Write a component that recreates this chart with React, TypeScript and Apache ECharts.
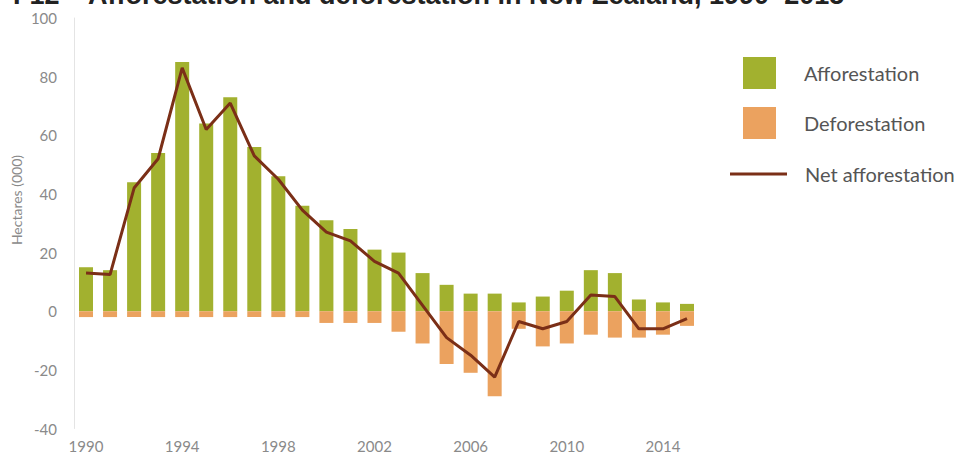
import React, { useEffect, useRef } from "react";
import * as echarts from "echarts";

const years = [
  "1990", "1991", "1992", "1993", "1994", "1995", "1996", "1997", "1998", "1999",
  "2000", "2001", "2002", "2003", "2004", "2005", "2006", "2007", "2008", "2009",
  "2010", "2011", "2012", "2013", "2014", "2015",
];
const afforestation = [15, 14, 44, 54, 85, 64, 73, 56, 46, 36, 31, 28, 21, 20, 13, 9, 6, 6, 3, 5, 7, 14, 13, 4, 3, 2.5];
const deforestation = [-2, -2, -2, -2, -2, -2, -2, -2, -2, -2, -4, -4, -4, -7, -11, -18, -21, -29, -6, -12, -11, -8, -9, -9, -8, -5];
const netAfforestation = [13, 12.5, 42, 52, 83, 62, 71, 53, 45, 34.5, 27, 24, 17, 13, 2, -9, -15, -22.5, -3.5, -6, -3.5, 5.5, 5, -6, -6, -2.5];
const titleCode = "F12";
const titleText = "Afforestation and deforestation in New Zealand, 1990–2015";
const yAxisName = "Hectares (000)";

const GREEN = "#a2b12f";
const ORANGE = "#eba25f";
const BROWN = "#7b2f17";
const FONT = "Lato, 'Open Sans', sans-serif";

export default function App() {
  const ref = useRef<HTMLDivElement>(null);
  useEffect(() => {
    if (!ref.current) return;
    const chart = echarts.init(ref.current, undefined, { renderer: "svg" });
    chart.setOption({
      animation: false,
      backgroundColor: "#ffffff",
      textStyle: { fontFamily: FONT },
      grid: { left: 74, right: 272, top: 18, bottom: 34.5, containLabel: false },
      xAxis: {
        type: "category",
        data: years,
        boundaryGap: true,
        axisLine: { show: false },
        axisTick: { show: false },
        axisLabel: { interval: 3, color: "#8a8a8a", fontSize: 15, margin: 10, fontFamily: FONT },
        splitLine: { show: false },
      },
      yAxis: {
        type: "value",
        min: -40,
        max: 100,
        interval: 20,
        axisLine: { show: true, lineStyle: { color: "#e4e4e4", width: 1 } },
        axisTick: { show: false },
        splitLine: { show: false },
        axisLabel: { color: "#8a8a8a", fontSize: 15, margin: 17, fontFamily: FONT },
      },
      legend: [
        {
          data: ["Afforestation", "Deforestation"],
          orient: "vertical",
          left: 743,
          top: 57,
          padding: 0,
          itemWidth: 33,
          itemHeight: 32,
          itemGap: 18,
          icon: "rect",
          textStyle: { fontSize: 20, color: "#555555", fontFamily: FONT, padding: [0, 0, 0, 23] },
          selectedMode: false,
        },
        {
          data: ["Net afforestation"],
          orient: "vertical",
          left: 730,
          top: 164,
          padding: 0,
          itemWidth: 57,
          itemHeight: 3,
          icon: "rect",
          textStyle: { fontSize: 20, color: "#555555", fontFamily: FONT, padding: [0, 0, 0, 13] },
          selectedMode: false,
        },
      ],
      graphic: [
        {
          type: "text",
          left: 13,
          top: -19,
          style: { text: titleCode, font: "bold 27px 'Liberation Sans', Arial, sans-serif", fill: "#222222" },
        },
        {
          type: "text",
          left: 88,
          top: -19,
          style: { text: titleText, font: "bold 27px 'Liberation Sans', Arial, sans-serif", fill: "#222222" },
        },
        {
          type: "text",
          x: 16,
          y: 200,
          rotation: Math.PI / 2,
          style: {
            text: yAxisName,
            font: `14px ${FONT}`,
            fill: "#8a8a8a",
            align: "center",
            verticalAlign: "middle",
          },
        },
      ],
      series: [
        {
          name: "Afforestation",
          type: "bar",
          stack: "total",
          data: afforestation,
          barWidth: 14,
          itemStyle: { color: GREEN },
        },
        {
          name: "Deforestation",
          type: "bar",
          stack: "total",
          data: deforestation,
          barWidth: 14,
          itemStyle: { color: ORANGE },
        },
        {
          name: "Net afforestation",
          type: "line",
          data: netAfforestation,
          symbol: "none",
          z: 5,
          lineStyle: { color: BROWN, width: 3 },
          itemStyle: { color: BROWN },
        },
      ],
    });
    return () => chart.dispose();
  }, []);
  return (
    <div
      ref={ref}
      style={{ position: "fixed", left: 0, top: 0, width: 971, height: 463, background: "#fff" }}
    />
  );
}
